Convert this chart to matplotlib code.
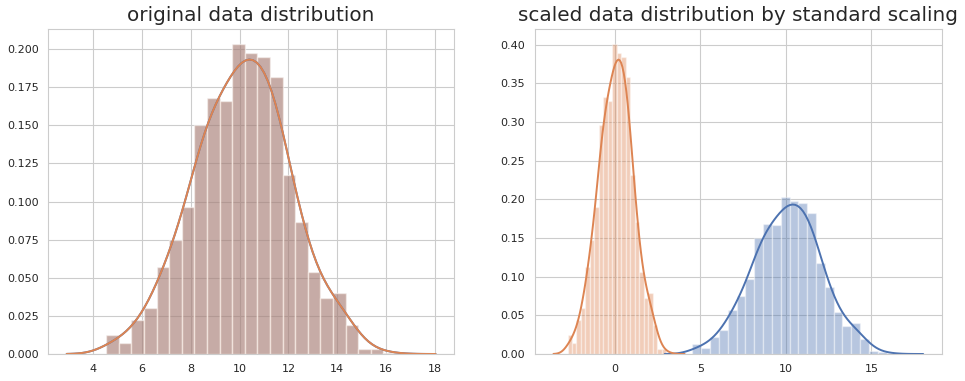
"""Original vs standard-scaled distribution (distplot style, two panels)."""
import matplotlib

matplotlib.use("Agg")
import matplotlib.pyplot as plt
import numpy as np
import seaborn as sns

# --- histogram of the original data (density), 23 equal bins ---
orig_bin_start = 4.54
orig_bin_width = 0.516
orig_density = [0.0127, 0.0074, 0.0223, 0.0304, 0.0573, 0.0748, 0.0967, 0.1503,
                0.1683, 0.1663, 0.2031, 0.1972, 0.1952, 0.1818, 0.1177, 0.0869,
                0.0540, 0.0365, 0.0403, 0.0188, 0.0035, 0.0030, 0.0008]

# --- histogram of the scaled data (density), same 23 bins in z units ---
scaled_bin_start = -2.76
scaled_bin_width = 0.262
scaled_density = [0.0250, 0.0146, 0.0439, 0.0599, 0.1129, 0.1474, 0.1905, 0.2961,
                  0.3316, 0.3276, 0.4001, 0.3885, 0.3845, 0.3581, 0.2319, 0.1712,
                  0.1064, 0.0719, 0.0794, 0.0370, 0.0069, 0.0059, 0.0016]

# kde smoothing and support padding for each series
orig_bw, orig_pad = 0.64, 1.62
scaled_bw, scaled_pad = 0.325, 0.82

BLUE = "#4C72B0"
ORANGE = "#DD8452"


def edges(start, width, n):
    return start + width * np.arange(n)


def kde_curve(start, width, dens, bw, pad, gridsize=100):
    """Gaussian kde rebuilt from the binned density."""
    dens = np.asarray(dens)
    left = edges(start, width, len(dens))
    centers = left + width / 2
    lo, hi = start - pad, start + width * len(dens) + pad
    xs = np.linspace(lo, hi, gridsize)
    w = dens * width
    w = w / w.sum()
    z = (xs[:, None] - centers[None, :]) / bw
    ys = (w[None, :] * np.exp(-0.5 * z ** 2)).sum(axis=1) / (bw * np.sqrt(2 * np.pi))
    return xs, ys


def distplot(ax, start, width, dens, bw, pad, color):
    left = edges(start, width, len(dens))
    ax.bar(left, dens, width=width, align="edge", color=color, alpha=0.4,
           edgecolor="white", linewidth=1)
    xs, ys = kde_curve(start, width, dens, bw, pad)
    ax.plot(xs, ys, color=color, lw=1.4)


sns.set_style("whitegrid")
plt.rcParams["font.family"] = ["DejaVu Sans"]

fig = plt.figure(figsize=(9.65, 3.81), dpi=100)
ax1 = fig.add_axes([0.0500, 0.0709, 0.4205, 0.8530])
ax2 = fig.add_axes([0.5544, 0.0709, 0.4214, 0.8530])

# left panel: the original column was drawn twice (blue then orange)
distplot(ax1, orig_bin_start, orig_bin_width, orig_density, orig_bw, orig_pad, BLUE)
distplot(ax1, orig_bin_start, orig_bin_width, orig_density, orig_bw, orig_pad, ORANGE)
ax1.set_title("original data distribution", fontsize=14.4)

# right panel: original (blue) and scaled (orange)
distplot(ax2, orig_bin_start, orig_bin_width, orig_density, orig_bw, orig_pad, BLUE)
distplot(ax2, scaled_bin_start, scaled_bin_width, scaled_density, scaled_bw,
         scaled_pad, ORANGE)
ax2.set_title("scaled data distribution by standard scaling", fontsize=14.4)

for ax in (ax1, ax2):
    ax.tick_params(labelsize=8, colors=".15")
    ax.set_axisbelow(True)

fig.savefig("out.png", dpi=100)
